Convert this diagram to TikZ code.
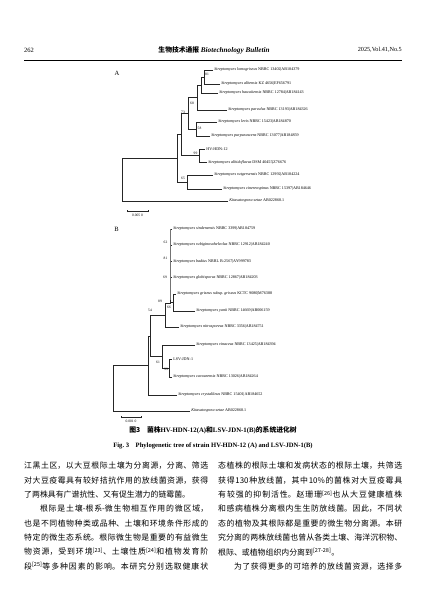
\documentclass[tikz,border=0pt]{standalone}
\usepackage{fontspec}
\setmainfont{Liberation Serif}
\newfontfamily\cjk{Noto Sans CJK SC}
\XeTeXlinebreaklocale "zh"
\XeTeXlinebreakskip=0pt plus 2pt
\newcommand\spc[2]{\textit{#1}~#2}
\newcommand\bodyf{\cjk\fontsize{7.9}{10}\selectfont}
\newcommand\jl[4]{\node[anchor=west,inner sep=0pt] (#1) at (#2,#3) {\parbox{184pt}{\bodyf\parfillskip=0pt\relax #4}};}
\newcommand\el[4]{\node[anchor=west,inner sep=0pt] (#1) at (#2,#3) {\parbox{184pt}{\bodyf #4}};}
\tikzset{
  br/.style={line width=0.4pt, draw=black!85},
  lbl/.style={anchor=west, inner sep=0pt, xshift=1.2pt, font=\fontsize{4.1}{5}\selectfont},
  bs/.style={inner sep=0pt, font=\fontsize{3.6}{4}\selectfont},
  letter/.style={inner sep=0pt, font=\fontsize{6.5}{7}\selectfont}
}
\begin{document}
\begin{tikzpicture}[x=1pt,y=-1pt]
\useasboundingbox (0,0) rectangle (427,597);
\fill[white] (0,0) rectangle (427,597);
% header
\node[anchor=west,inner sep=0pt,font=\fontsize{6.5}{7}\selectfont] (pg) at (24,50) {262};
\node[inner sep=0pt] (jt) at (214,50) {{\cjk\bfseries\fontsize{6.8}{7}\selectfont 生物技术通报}\,\textbf{\textit{\fontsize{7.2}{8}\selectfont Biotechnology Bulletin}}};
\node[anchor=east,inner sep=0pt,font=\fontsize{6.2}{7}\selectfont] (vol) at (402,50) {2025,Vol.41,No.5};
\coordinate (r1) at (24,60.5);
\coordinate (r2) at (402,60.5);
\draw[line width=0.5pt] (r1) -- (r2);

% ---------------- tree A ----------------
\node[letter] (lA) at (117,73) {A};
\coordinate (A1) at (213,70);
\coordinate (A2) at (220,84);
\coordinate (A3) at (218,93);
\coordinate (A4) at (227,110);
\coordinate (A5) at (217,122);
\coordinate (A6) at (210,136);
\coordinate (A7) at (205,149);
\coordinate (A8) at (207,162);
\coordinate (A9) at (213,175);
\coordinate (A10) at (222,189);
\coordinate (A11) at (228,201);
\coordinate (a81) at (204,77);
\coordinate (aX) at (201,85);
\coordinate (aY) at (197,97.5);
\coordinate (a58) at (196,129);
\coordinate (a68) at (188,113.25);
\coordinate (a99) at (199,155.5);
\coordinate (a73) at (181,134.4);
\coordinate (a65) at (187,182);
\coordinate (aZ) at (177,158.2);
\coordinate (aR) at (122,179.6);
\draw[br] (A1) -| (a81); \draw[br] (A2) -| (a81);
\draw[br] (a81) -| (aX); \draw[br] (A3) -| (aX);
\draw[br] (aX) -| (aY); \draw[br] (A4) -| (aY);
\draw[br] (A5) -| (a58); \draw[br] (A6) -| (a58);
\draw[br] (aY) -| (a68); \draw[br] (a58) -| (a68);
\draw[br] (A7) -| (a99); \draw[br] (A8) -| (a99);
\draw[br] (a68) -| (a73); \draw[br] (a99) -| (a73);
\draw[br] (A9) -| (a65); \draw[br] (A10) -| (a65);
\draw[br] (a73) -| (aZ); \draw[br] (a65) -| (aZ);
\draw[br] (aZ) -| (aR); \draw[br] (A11) -| (aR);
\node[lbl] (tA1) at (A1) {\spc{Streptomyces lomogriseus}{NBRC 13402|AB184379}};
\node[lbl] (tA2) at (A2) {\spc{Streptomyces albensis}{KZ 4656|EF656791}};
\node[lbl] (tA3) at (A3) {\spc{Streptomyces hawaiiensis}{NBRC 12784|AB184143}};
\node[lbl] (tA4) at (A4) {\spc{Streptomyces parvulus}{NBRC 13193|AB184326}};
\node[lbl] (tA5) at (A5) {\spc{Streptomyces levis}{NBRC 15423|AB184870}};
\node[lbl] (tA6) at (A6) {\spc{Streptomyces purpurascens}{NBRC 13077|AB184859}};
\node[lbl] (tA7) at (A7) {HV-HDN-12};
\node[lbl] (tA8) at (A8) {\spc{Streptomyces albidoflavus}{DSM 40455|Z76676}};
\node[lbl] (tA9) at (A9) {\spc{Streptomyces rutgersensis}{NBRC 12992|AB184224}};
\node[lbl] (tA10) at (A10) {\spc{Streptomyces cinereospinus}{NBRC 15397|AB184646}};
\node[lbl] (tA11) at (A11) {\textit{Kitasatospora setae}~AB022868.1};
\node[bs] (bA81) at (207,74.7) {81};
\node[bs] (bA68) at (192,103) {68};
\node[bs] (bA58) at (199.5,128) {58};
\node[bs] (bA73) at (183,112.5) {73};
\node[bs] (bA99) at (195.5,153) {99};
\node[bs] (bA65) at (183,178) {65};
\coordinate (sA1) at (127,211);
\coordinate (sA2) at (148,211);
\draw[br] (sA1) -- (sA2);
\draw[br] ([yshift=-1.2pt]sA1) -- ([yshift=1.2pt]sA1);
\draw[br] ([yshift=-1.2pt]sA2) -- ([yshift=1.2pt]sA2);
\node[bs] (sAl) at (137.5,215.5) {0.005 0};

% ---------------- tree B ----------------
\node[letter] (lB) at (116.5,229) {B};
\coordinate (B1) at (172,229);
\coordinate (B2) at (172,245);
\coordinate (B3) at (172,261.5);
\coordinate (B4) at (172,277.5);
\coordinate (B5) at (176,294);
\coordinate (B6) at (195,311);
\coordinate (B7) at (179,327);
\coordinate (B8) at (195,345);
\coordinate (B9) at (172,359);
\coordinate (B10) at (172,377);
\coordinate (B11) at (177,395);
\coordinate (B12) at (190,411);
\coordinate (bP) at (170,303.5);
\coordinate (b66) at (173,302.5);
\coordinate (b89) at (165,315.25);
\coordinate (b99) at (169,368);
\coordinate (b61) at (162,356.5);
\coordinate (b54) at (150,335.9);
\coordinate (bR) at (148,365.4);
\coordinate (bRoot) at (113,388.2);
\draw[br] (B1) -| (bP); \draw[br] (B2) -| (bP);
\draw[br] (B3) -| (bP); \draw[br] (B4) -| (bP);
\draw[br,line width=0.9pt,draw=black!55] (B1) ++(-2pt,0) -- (170,300);
\draw[br] (B5) -| (b66); \draw[br] (B6) -| (b66);
\draw[br] (b66) -| (bP);
\draw[br] (bP) -| (b89); \draw[br] (B7) -| (b89);
\draw[br] (B9) -| (b99); \draw[br] (B10) -| (b99);
\draw[br] (B8) -| (b61); \draw[br] (b99) -| (b61);
\draw[br] (b89) -| (b54); \draw[br] (b61) -| (b54);
\draw[br] (b54) -| (bR); \draw[br] (B11) -| (bR);
\draw[br] (bR) -| (bRoot); \draw[br] (B12) -| (bRoot);
\node[lbl] (tB1) at (B1) {\spc{Streptomyces sindenensis}{NBRC 3399|AB184759}};
\node[lbl] (tB2) at (B2) {\spc{Streptomyces rubiginosohelvolus}{NBRC 12912|AB184240}};
\node[lbl] (tB3) at (B3) {\spc{Streptomyces badius}{NRRL B-2567|AY999783}};
\node[lbl] (tB4) at (B4) {\spc{Streptomyces globisporus}{NBRC 12867|AB184203}};
\node[lbl] (tB5) at (B5) {\textit{Streptomyces griseus}~subsp.~\textit{griseus}~KCTC 9080|M76388};
\node[lbl] (tB6) at (B6) {\spc{Streptomyces yanii}{NBRC 14669|AB006159}};
\node[lbl] (tB7) at (B7) {\spc{Streptomyces nitrosporeus}{NBRC 3356|AB184751}};
\node[lbl] (tB8) at (B8) {\spc{Streptomyces vinaceus}{NBRC 13425|AB184394}};
\node[lbl] (tB9) at (B9) {LSV-JDN-1};
\node[lbl] (tB10) at (B10) {\spc{Streptomyces cavourensis}{NBRC 13026|AB184264}};
\node[lbl] (tB11) at (B11) {\spc{Streptomyces crystallinus}{NBRC 15401|AB184652}};
\node[lbl] (tB12) at (B12) {\textit{Kitasatospora setae}~AB022868.1};
\node[bs] (bB62) at (165.5,242.7) {62};
\node[bs] (bB81) at (165.5,258) {81};
\node[bs] (bB69) at (165,277) {69};
\node[bs] (bB66) at (169,307) {66};
\node[bs] (bB89) at (160,301) {89};
\node[bs] (bB54) at (150,310.5) {54};
\node[bs] (bB61) at (158,362) {61};
\node[bs] (bB99) at (166,369.5) {99};
\coordinate (sB1) at (121,417);
\coordinate (sB2) at (141,417);
\draw[br] (sB1) -- (sB2);
\draw[br] ([yshift=-1.2pt]sB1) -- ([yshift=1.2pt]sB1);
\draw[br] ([yshift=-1.2pt]sB2) -- ([yshift=1.2pt]sB2);
\node[bs] (sBl) at (131,421.5) {0.001 0};

% captions
\node[inner sep=0pt] (cap1) at (213,430.5) {{\cjk\bfseries\fontsize{6.8}{8}\selectfont 图3\quad 菌株}{\bfseries\fontsize{6.8}{8}\selectfont HV-HDN-12(A)}{\cjk\bfseries\fontsize{6.8}{8}\selectfont 和}{\bfseries\fontsize{6.8}{8}\selectfont LSV-JDN-1(B)}{\cjk\bfseries\fontsize{6.8}{8}\selectfont 的系统进化树}};
\node[inner sep=0pt] (cap2) at (213,445.5) {\bfseries\fontsize{6.6}{8}\selectfont Fig.\ 3\quad Phylogenetic tree of strain HV-HDN-12 (A) and LSV-JDN-1(B)};

% body text, left column
\jl{L1}{24}{466}{江黑土区，以大豆根际土壤为分离源，分离、筛选}
\jl{L2}{24}{480.3}{对大豆疫霉具有较好拮抗作用的放线菌资源，获得}
\el{L3}{24}{494.6}{了两株具有广谱抗性、又有促生潜力的链霉菌。}
\jl{L4}{24}{508.9}{\hspace*{2em}根际是土壤-根系-微生物相互作用的微区域，}
\jl{L5}{24}{523.2}{也是不同植物种类或品种、土壤和环境条件形成的}
\jl{L6}{24}{537.5}{特定的微生态系统。根际微生物是重要的有益微生}
\jl{L7}{24}{551.8}{物资源，受到环境\textsuperscript{[23]}、土壤性质\textsuperscript{[24]}和植物发育阶}
\jl{L8}{24}{566.1}{段\textsuperscript{[25]}等多种因素的影响。本研究分别选取健康状}
% right column
\jl{R1}{218}{466}{态植株的根际土壤和发病状态的根际土壤，共筛选}
\jl{R2}{218}{480.3}{获得130种放线菌，其中10\%的菌株对大豆疫霉具}
\jl{R3}{218}{494.6}{有较强的抑制活性。赵珊珊\textsuperscript{[26]}也从大豆健康植株}
\jl{R4}{218}{508.9}{和感病植株分离根内生生防放线菌。因此，不同状}
\jl{R5}{218}{523.2}{态的植物及其根际都是重要的微生物分离源。本研}
\jl{R6}{218}{537.5}{究分离的两株放线菌也曾从各类土壤、海洋沉积物、}
\el{R7}{218}{551.8}{根际、或植物组织内分离到\textsuperscript{[27-28]}。}
\jl{R8}{218}{566.1}{\hspace*{2em}为了获得更多的可培养的放线菌资源，选择多}
\end{tikzpicture}
\end{document}
